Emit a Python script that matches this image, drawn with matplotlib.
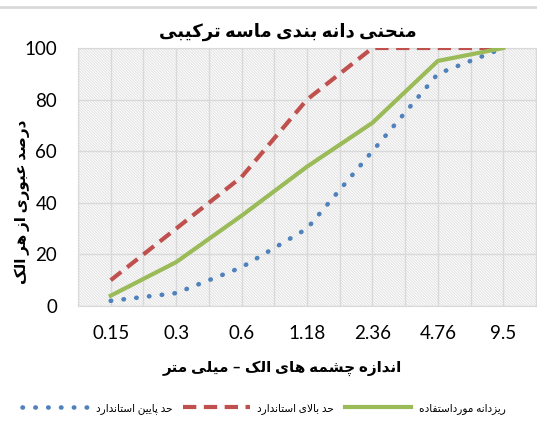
import matplotlib
matplotlib.use("Agg")
import matplotlib.pyplot as plt
from matplotlib.patches import Rectangle
from matplotlib.lines import Line2D

# داده ها
sieves = ["0.15", "0.3", "0.6", "1.18", "2.36", "4.76", "9.5"]
used = [4, 17, 35, 54, 71, 95, 100]
upper = [10, 30, 50, 80, 100, 100, 100]
lower = [2, 5, 15, 30, 60, 90, 100]

title = "منحنی دانه بندی ماسه ترکیبی"
ylab = "درصد عبوری از هر الک"
xlab = "اندازه چشمه های الک – میلی متر"
names = ["حد پایین استاندارد", "حد بالای استاندارد", "ریزدانه مورداستفاده"]

# شکل های حروف: (جدا، پایانی، آغازی، میانی)
FORMS = {
    'ا': (0xFE8D, 0xFE8E, None, None), 'آ': (0xFE81, 0xFE82, None, None),
    'ب': (0xFE8F, 0xFE90, 0xFE91, 0xFE92), 'پ': (0xFB56, 0xFB57, 0xFB58, 0xFB59),
    'ت': (0xFE95, 0xFE96, 0xFE97, 0xFE98), 'ث': (0xFE99, 0xFE9A, 0xFE9B, 0xFE9C),
    'ج': (0xFE9D, 0xFE9E, 0xFE9F, 0xFEA0), 'چ': (0xFB7A, 0xFB7B, 0xFB7C, 0xFB7D),
    'ح': (0xFEA1, 0xFEA2, 0xFEA3, 0xFEA4), 'خ': (0xFEA5, 0xFEA6, 0xFEA7, 0xFEA8),
    'د': (0xFEA9, 0xFEAA, None, None), 'ذ': (0xFEAB, 0xFEAC, None, None),
    'ر': (0xFEAD, 0xFEAE, None, None), 'ز': (0xFEAF, 0xFEB0, None, None),
    'ژ': (0xFB8A, 0xFB8B, None, None),
    'س': (0xFEB1, 0xFEB2, 0xFEB3, 0xFEB4), 'ش': (0xFEB5, 0xFEB6, 0xFEB7, 0xFEB8),
    'ص': (0xFEB9, 0xFEBA, 0xFEBB, 0xFEBC), 'ض': (0xFEBD, 0xFEBE, 0xFEBF, 0xFEC0),
    'ط': (0xFEC1, 0xFEC2, 0xFEC3, 0xFEC4), 'ظ': (0xFEC5, 0xFEC6, 0xFEC7, 0xFEC8),
    'ع': (0xFEC9, 0xFECA, 0xFECB, 0xFECC), 'غ': (0xFECD, 0xFECE, 0xFECF, 0xFED0),
    'ف': (0xFED1, 0xFED2, 0xFED3, 0xFED4), 'ق': (0xFED5, 0xFED6, 0xFED7, 0xFED8),
    'ک': (0xFB8E, 0xFB8F, 0xFB90, 0xFB91), 'گ': (0xFB92, 0xFB93, 0xFB94, 0xFB95),
    'ل': (0xFEDD, 0xFEDE, 0xFEDF, 0xFEE0), 'م': (0xFEE1, 0xFEE2, 0xFEE3, 0xFEE4),
    'ن': (0xFEE5, 0xFEE6, 0xFEE7, 0xFEE8), 'و': (0xFEED, 0xFEEE, None, None),
    'ه': (0xFEE9, 0xFEEA, 0xFEEB, 0xFEEC), 'ی': (0xFBFC, 0xFBFD, 0xFBFE, 0xFBFF),
}


def dual(c):
    return c in FORMS and FORMS[c][2] is not None


def fa(text):
    # شکل دادن ساده به حروف فارسی و برگرداندن ترتیب برای نمایش
    out = []
    i = 0
    n = len(text)
    while i < n:
        c = text[i]
        prev = text[i - 1] if i > 0 else ''
        nxt = text[i + 1] if i + 1 < n else ''
        if c not in FORMS:
            out.append(c)
            i += 1
            continue
        jp = dual(prev)
        if c == 'ل' and nxt in ('ا', 'آ'):
            if nxt == 'ا':
                out.append(chr(0xFEFC if jp else 0xFEFB))
            else:
                out.append(chr(0xFEF6 if jp else 0xFEF5))
            i += 2
            continue
        jn = dual(c) and nxt in FORMS
        iso, fin, ini, med = FORMS[c]
        if jp and jn:
            out.append(chr(med))
        elif jp:
            out.append(chr(fin))
        elif jn:
            out.append(chr(ini))
        else:
            out.append(chr(iso))
        i += 1
    return ''.join(reversed(out))


plt.rcParams['font.family'] = ['Lato', 'DejaVu Sans']
plt.rcParams['hatch.linewidth'] = 0.7

fig = plt.figure(figsize=(5.37, 4.32), dpi=100)
ax = fig.add_axes([78 / 537, 1 - 306 / 432, 458 / 537, 258 / 432])

x = list(range(len(sieves)))

# زمینه هاشور خورده
ax.add_patch(Rectangle((0, 0), 1, 1, transform=ax.transAxes, fill=False,
                       hatch='\\' * 12, edgecolor='#e0e0e0', linewidth=0, zorder=0))

for v in range(0, 101, 20):
    ax.axhline(v, color='#d9d9d9', lw=1, zorder=1)
for k in range(0, 15):
    ax.axvline(-0.5 + 0.5 * k, color='#d9d9d9', lw=1, zorder=1)

ax.plot(x, lower, color='#4F81BD', lw=3.3, linestyle=(0, (0.1, 2.7)),
        dash_capstyle='round', zorder=3, label=fa(names[0]))
ax.plot(x, upper, color='#C0504D', lw=3, linestyle=(0, (3.2, 1.8)),
        zorder=3, label=fa(names[1]))
ax.plot(x, used, color='#9BBB59', lw=3, zorder=3, label=fa(names[2]))

ax.set_xlim(-0.5, 6.5)
ax.set_ylim(0, 100)
ax.set_xticks(x)
ax.set_xticklabels(sieves, fontsize=13.5)
ax.set_yticks(range(0, 101, 20))
ax.tick_params(axis='y', labelsize=13.5, length=0, pad=15)
ax.tick_params(axis='x', length=0, pad=14)
for s in ax.spines.values():
    s.set_color('#d9d9d9')

fig.text(288 / 537, 1 - 32 / 432, fa(title), ha='center', va='center',
         fontsize=13, fontweight='bold')
fig.text(22 / 537, 1 - 202 / 432, fa(ylab), ha='center', va='center',
         rotation=90, fontsize=11, fontweight='bold')
fig.text(282 / 537, 1 - 368 / 432, fa(xlab), ha='center', va='center',
         fontsize=11, fontweight='bold')

fig.legend(loc='center', bbox_to_anchor=(264 / 537, 1 - 408 / 432), ncol=3,
           frameon=False, fontsize=7.6, handlelength=6.3, columnspacing=1.0,
           handletextpad=0.7)

fig.add_artist(Line2D([0, 1], [1 - 6.5 / 432, 1 - 6.5 / 432], color='#d9d9d9', lw=2))

fig.savefig('out.png', dpi=100)
